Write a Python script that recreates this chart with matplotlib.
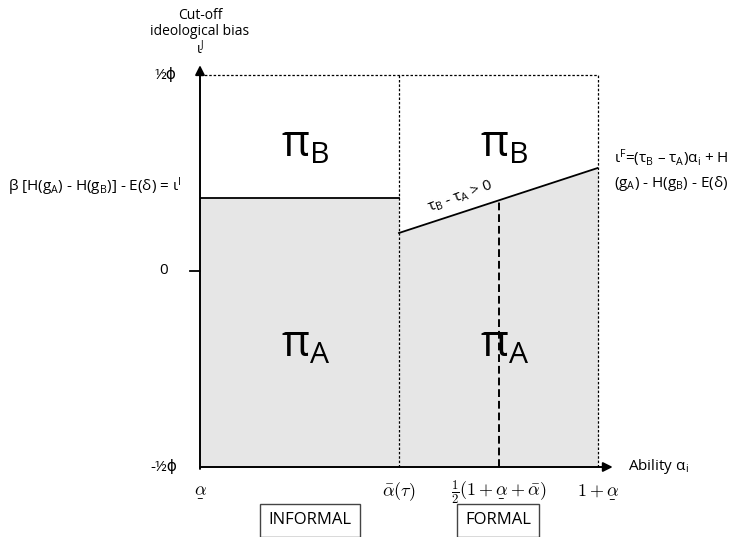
import matplotlib
matplotlib.use("Agg")
import matplotlib.pyplot as plt
import numpy as np
from matplotlib.mathtext import MathTextParser

plt.rcParams['font.family'] = ['Open Sans', 'DejaVu Sans']
plt.rcParams['mathtext.fontset'] = 'custom'
plt.rcParams['mathtext.rm'] = 'Open Sans'
plt.rcParams['mathtext.it'] = 'Open Sans:italic'
plt.rcParams['mathtext.bf'] = 'Open Sans:bold'
plt.rcParams['mathtext.sf'] = 'Open Sans'


def mt_ok(s):
    try:
        MathTextParser('path').parse(s)
        return True
    except Exception:
        return False


UL = r'\alpha'
for cand in [r'\underline{\alpha}', r'\underset{\_}{\alpha}', r'\underset{-}{\alpha}']:
    if mt_ok('$' + cand + '$'):
        UL = cand
        break

# ---- data ----
x_positions = [0.0, 0.5, 0.75, 1.0]   # alpha_low, alpha_bar(tau), midpoint, 1+alpha_low
x_tick_labels = [rf'${UL}$', r'$\bar{\alpha}(\tau)$',
                 rf'$\frac{{1}}{{2}}(1+{UL}+\bar{{\alpha}})$', rf'$1+{UL}$']
y_positions = [-0.5, 0.0, 0.5]
y_tick_labels = ['-½ϕ', '0', '½ϕ']
informal_cutoff = 0.186
formal_x = [0.5, 1.0]
formal_cutoff = [0.097, 0.263]
region_labels = ['INFORMAL', 'FORMAL']

fig = plt.figure(figsize=(7.39, 5.37), dpi=100)
ax = fig.add_axes([200 / 739, 70 / 537, 398 / 739, 392 / 537])
ax.set_xlim(0, 1)
ax.set_ylim(-0.5, 0.5)
ax.axis('off')

gray = '#e6e6e6'
ybot, ytop = y_positions[0], y_positions[-1]
xa, xb, xm, xe = x_positions

# shaded pi_A regions
ax.fill_between([xa, xb], ybot, informal_cutoff, color=gray, lw=0)
ax.fill_between(formal_x, ybot, formal_cutoff, color=gray, lw=0)

# cutoff lines
ax.plot([xa, xb], [informal_cutoff, informal_cutoff], color='black', lw=1.3)
ax.plot(formal_x, formal_cutoff, color='black', lw=1.3)

# dashed boundaries
ax.plot([xa, xe], [ytop, ytop], color='black', lw=0.9, ls=(0, (2, 1.5)), clip_on=False)
ax.plot([xe, xe], [ybot, ytop], color='black', lw=0.9, ls=(0, (2, 1.5)), clip_on=False)
ax.plot([xb, xb], [ybot, ytop], color='black', lw=0.9, ls=(0, (2, 1.5)), clip_on=False)
ym = np.interp(xm, formal_x, formal_cutoff)
ax.plot([xm, xm], [ybot, ym], color='black', lw=1.4, ls=(0, (4, 2)))

# axes arrows
ax.annotate('', xy=(0, 0.525), xytext=(0, ybot - 0.005),
            arrowprops=dict(arrowstyle='-|>', color='black', lw=1.4,
                            mutation_scale=14, shrinkA=0, shrinkB=0),
            annotation_clip=False)
ax.annotate('', xy=(1.037, ybot), xytext=(0, ybot),
            arrowprops=dict(arrowstyle='-|>', color='black', lw=1.4,
                            mutation_scale=14, shrinkA=0, shrinkB=0),
            annotation_clip=False)
# zero tick
ax.plot([-0.025, 0], [0, 0], color='black', lw=1.3, clip_on=False)

fs = 11
# y labels
for yv, lab in zip(y_positions, y_tick_labels):
    xoff = -0.08 if lab == '0' else -0.058
    ax.text(xoff, yv, lab, ha='right', va='center', fontsize=fs)

# x tick labels
for xv, lab in zip(x_positions, x_tick_labels):
    ax.text(xv, -0.563, lab, ha='center', va='center', fontsize=13,
            math_fontfamily='cm')

ax.text(1.075, ybot, r'Ability α$_\mathrm{i}$', ha='left', va='center', fontsize=fs)

# y axis title
ax.text(0, 0.651, 'Cut-off', ha='center', va='center', fontsize=10)
ax.text(0, 0.610, 'ideological bias', ha='center', va='center', fontsize=10)
ax.text(0, 0.567, r'ι$^\mathrm{J}$', ha='center', va='center', fontsize=10)

# region pi labels
pfs = 31
ax.text(0.265, 0.32, r'π$_\mathrm{B}$', ha='center', va='center', fontsize=pfs)
ax.text(0.765, 0.32, r'π$_\mathrm{B}$', ha='center', va='center', fontsize=pfs)
ax.text(0.265, -0.19, r'π$_\mathrm{A}$', ha='center', va='center', fontsize=pfs)
ax.text(0.765, -0.19, r'π$_\mathrm{A}$', ha='center', va='center', fontsize=pfs)

# informal cutoff formula
ax.text(-0.482, 0.214, r'β [H(g$_\mathrm{A}$) - H(g$_\mathrm{B}$)] - E(δ) = ι$^\mathrm{I}$',
        ha='left', va='center', fontsize=fs)

# formal cutoff formula
ax.text(1.04, 0.288, r'ι$^\mathrm{F}$=(τ$_\mathrm{B}$ – τ$_\mathrm{A}$)α$_\mathrm{i}$ + H',
        ha='left', va='center', fontsize=fs)
ax.text(1.04, 0.224, r'(g$_\mathrm{A}$) - H(g$_\mathrm{B}$) - E(δ)',
        ha='left', va='center', fontsize=fs)

# slope label
ax.text(0.655, 0.19, r'τ$_\mathrm{B}$ - τ$_\mathrm{A}$ > 0', ha='center', va='center',
        fontsize=fs, rotation=20)

# region boxes
for xc, lab in zip([0.276, 0.749], region_labels):
    ax.text(xc, -0.636, lab, ha='center', va='center', fontsize=12,
            bbox=dict(boxstyle='square,pad=0.5', fc='white', ec='#444444', lw=1))

fig.savefig('out.png', dpi=100)
